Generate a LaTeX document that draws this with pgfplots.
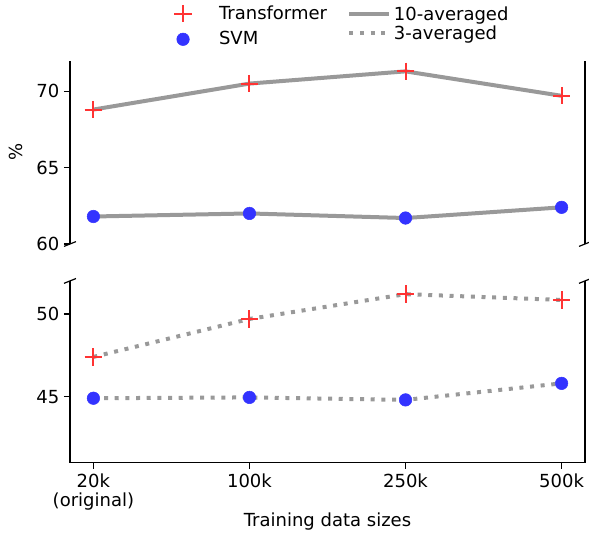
\documentclass[border=0pt]{standalone}
\usepackage{fontspec}
\setmainfont{DejaVu Sans}
\usepackage{pgfplots}
\pgfplotsset{compat=1.18}
\definecolor{tfred}{RGB}{255,51,51}
\definecolor{svmblue}{RGB}{51,51,255}
\definecolor{avggray}{RGB}{128,128,128}
\newcommand{\fs}{\fontsize{13.5}{14.5}\selectfont}
\tikzset{spines/.style={black, line width=0.9pt}}

\pgfplotsset{
  brokenax/.style={
    width=386.25pt, scale only axis, xmin=-0.15, xmax=3.15,
    axis line style={draw=none},
    tick align=outside, tick pos=left,
    major tick length=4.5pt,
    major tick style={black, line width=0.9pt},
    tick label style={font=\fs},
    label style={font=\fs},
    /pgf/number format/assume math mode=true,
    clip=false,
  },
  tfmark/.style={only marks, mark=+, mark size=6.5pt, mark options={tfred, line width=1.5pt}},
  svmmark/.style={only marks, mark=*, mark size=4.7pt, mark options={draw=svmblue, fill=svmblue}},
  avg10/.style={avggray, opacity=0.8, line width=3pt, mark=none},
  avg3/.style={avggray, opacity=0.8, line width=3pt, mark=none, dash pattern=on 3pt off 5pt},
}

\begin{document}
\begin{tikzpicture}
% upper panel (10-averaged)
\begin{axis}[brokenax, at={(0pt,164pt)}, anchor=south west, height=137.5pt,
  ymin=60, ymax=72, ytick={60,65,70}, xtick=\empty,
  ylabel={\%},
  every axis y label/.style={at={(rel axis cs:-0.1049,0.5)}, rotate=90, anchor=center, font=\fs},
  legend style={draw=none, fill=none, inner sep=0pt, font=\fs,
    at={(rel axis cs:0.197,1.1866)}, anchor=west, row sep=3.5pt},
  legend cell align=left,
  legend image code/.code={\path[draw=none] (0pt,0pt) -- (33.5pt,0pt);
    \draw[mark repeat=2, mark phase=2, #1] plot coordinates {(0pt,0pt) (8.5pt,0pt) (17pt,0pt)};},
]
\addplot[tfmark] coordinates {(0,68.8) (1,70.5) (2,71.3) (3,69.7)};
\addlegendentry{Transformer}
\addplot[svmmark] coordinates {(0,61.8) (1,62.0) (2,61.7) (3,62.4)};
\addlegendentry{SVM}
\addplot[avg10, forget plot] coordinates {(0,68.8) (1,70.5) (2,71.3) (3,69.7)};
\addplot[avg10, forget plot] coordinates {(0,61.8) (1,62.0) (2,61.7) (3,62.4)};
\draw[spines] (rel axis cs:0,0) -- (rel axis cs:0,1);
\draw[spines] (rel axis cs:1,0) -- (rel axis cs:1,1);
\draw[spines] ([shift={(-4.5pt,-1.8pt)}]rel axis cs:0,0) -- ++(9pt,3.6pt);
\draw[spines] ([shift={(-4.5pt,-1.8pt)}]rel axis cs:1,0) -- ++(9pt,3.6pt);
\end{axis}
% lower panel (3-averaged)
\begin{axis}[brokenax, at={(0pt,0pt)}, anchor=south west, height=136.3pt,
  ymin=41, ymax=52, ytick={45,50},
  xtick={0,1,2,3}, xticklabels={{20k\\(original)},100k,250k,500k},
  xticklabel style={align=center},
  xlabel={Training data sizes},
  every axis x label/.style={at={(rel axis cs:0.5,0)}, anchor=base, yshift=-48.2pt, font=\fs},
  legend style={draw=none, fill=none, inner sep=0pt, font=\fs,
    at={(rel axis cs:0.5379,2.4145)}, anchor=west, row sep=-1.5pt},
  legend cell align=left,
  legend image code/.code={\draw[#1] (0pt,0pt) -- (30pt,0pt);},
]
\addlegendimage{avg10}
\addlegendentry{10-averaged}
\addplot[tfmark, forget plot] coordinates {(0,47.4) (1,49.7) (2,51.2) (3,50.85)};
\addplot[svmmark, forget plot] coordinates {(0,44.9) (1,44.95) (2,44.8) (3,45.8)};
\addplot[avg3] coordinates {(0,47.4) (1,49.7) (2,51.2) (3,50.85)};
\addlegendentry{3-averaged}
\addplot[avg3, forget plot] coordinates {(0,44.9) (1,44.95) (2,44.8) (3,45.8)};
\draw[spines] (rel axis cs:0,0) -- (rel axis cs:0,1);
\draw[spines] (rel axis cs:1,0) -- (rel axis cs:1,1);
\draw[spines] (rel axis cs:0,0) -- (rel axis cs:1,0);
\draw[spines] ([shift={(-4.5pt,-1.8pt)}]rel axis cs:0,1) -- ++(9pt,3.6pt);
\draw[spines] ([shift={(-4.5pt,-1.8pt)}]rel axis cs:1,1) -- ++(9pt,3.6pt);
\end{axis}
\pgfresetboundingbox
\path (-52.5pt,-52.7pt) rectangle (389.25pt,347pt);
\end{tikzpicture}
\end{document}
